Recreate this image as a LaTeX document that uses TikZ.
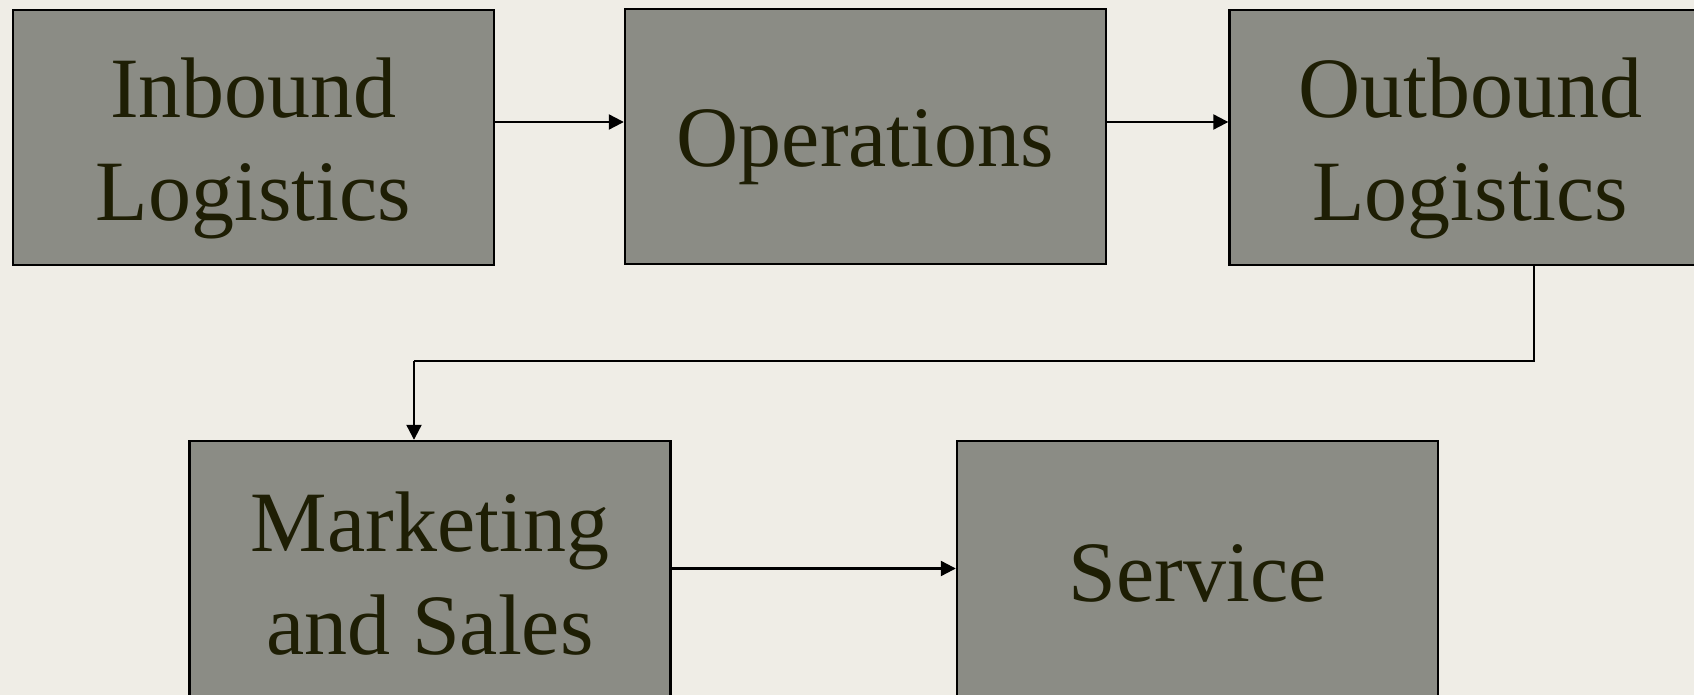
\documentclass[tikz,border=0pt]{standalone}
\usepackage{fontspec}
\setmainfont{Liberation Serif}
\usetikzlibrary{arrows.meta}
\definecolor{bgc}{RGB}{239,237,230}
\definecolor{boxc}{RGB}{139,140,133}
\definecolor{txtc}{RGB}{30,30,4}
\tikzset{
  stagebox/.style={draw=black, line width=1.2pt, fill=boxc,
    minimum width=240.5pt, minimum height=127.5pt, inner sep=0pt},
  stagetext/.style={text=txtc, inner sep=0pt, align=center,
    font=\fontsize{43pt}{51.6pt}\selectfont},
  arr/.style={draw=black, line width=1.1pt, -{Triangle[length=7.5pt,width=7.5pt]}},
  ln/.style={draw=black, line width=1.1pt}
}
\begin{document}
\begin{tikzpicture}[x=0.5pt,y=-0.5pt]
\useasboundingbox (0,0) rectangle (1694,695);
\fill[bgc] (0,0) rectangle (1694,695);
\clip (0,0) rectangle (1694,695);
\node[stagebox] (in)  at (253.5,137.5) {};
\node[stagebox] (ops) at (865.5,136.5) {};
\node[stagebox] (out) at (1470,137.5) {};
\node[stagebox] (mkt) at (430,568.5) {};
\node[stagebox] (svc) at (1197.5,568.5) {};
\node[stagetext] (inT)  at ([yshift=-5.5pt]in.center)  {Inbound\\Logistics};
\node[stagetext] (opsT) at ([yshift=-5.5pt]ops.center) {Operations};
\node[stagetext] (outT) at ([yshift=-5.5pt]out.center) {Outbound\\Logistics};
\node[stagetext] (mktT) at ([yshift=-2.7pt]mkt.center) {Marketing\\and Sales};
\node[stagetext] (svcT) at ([yshift=-2.7pt]svc.center) {Service};
\coordinate (c1) at (1534,361);
\coordinate (c2) at (414,361);
\draw[arr] ([yshift=7.75pt]in.east) -- ([yshift=7.75pt]in.east -| ops.west);
\draw[arr] ([yshift=7.25pt]ops.east) -- ([yshift=7.25pt]ops.east -| out.west);
\draw[ln] (c1 |- out.south) -- (c1) -- (c2);
\draw[arr] (c2) -- (c2 |- mkt.north);
\draw[arr] (mkt.east) -- (svc.west);
\end{tikzpicture}
\end{document}
